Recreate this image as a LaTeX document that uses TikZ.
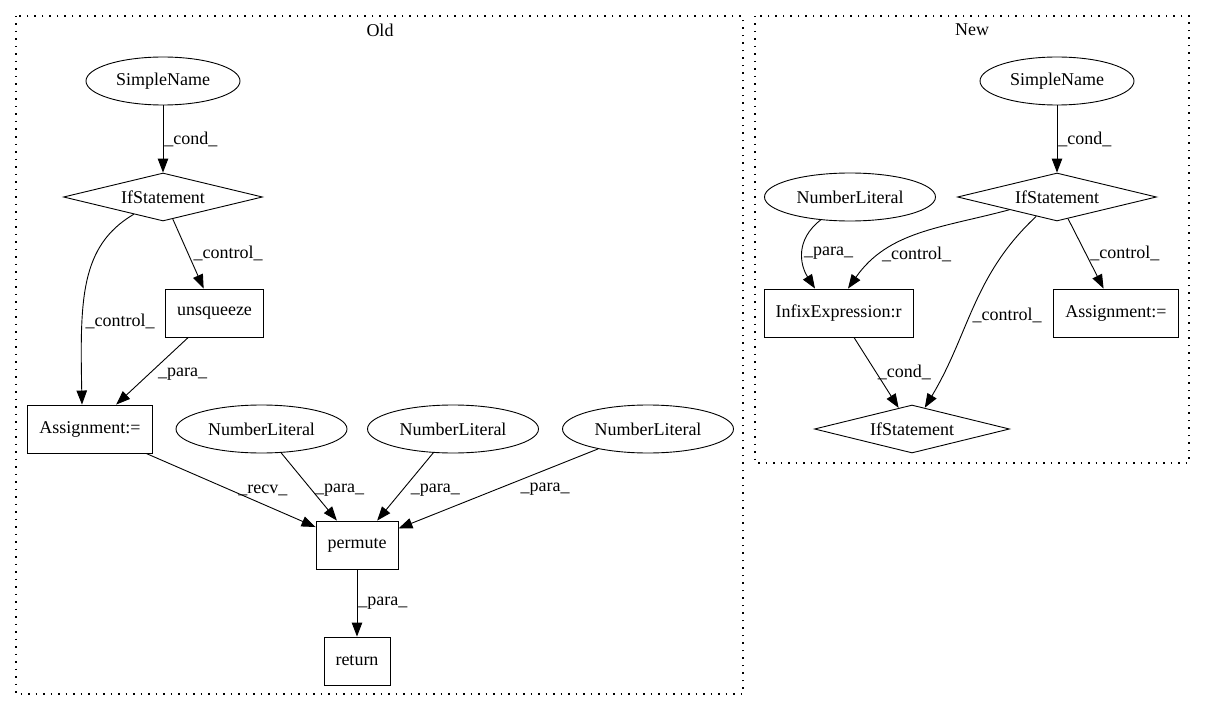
\documentclass[tikz,border=0pt]{standalone}
\usepackage{fontspec}
\setmainfont{Liberation Serif}
\usetikzlibrary{shapes.geometric}
\usetikzlibrary{arrows.meta}
\tikzset{every node/.style={font=\fontsize{18bp}{22bp}\selectfont},
         leaf/.style={draw,ellipse,minimum height=48bp,inner sep=0pt},
         stmt/.style={draw,rectangle,minimum height=48bp,inner xsep=11.5bp},
         cond/.style={draw,diamond,aspect=4,inner sep=0pt,minimum width=199bp,minimum height=48bp},
         astedge/.style={-{Triangle[length=14bp,width=10.5bp]}},
         lbl/.style={inner sep=1bp,anchor=west},
         cluster/.style={dash pattern=on 1.5bp off 6bp,line width=1.2bp},
         }

\begin{document}
\begin{tikzpicture}[x=1bp,y=-1bp,line width=0.9bp]
\useasboundingbox (0,0) rectangle (1205,712);
% the two clusters
\draw[cluster] (16,16) rectangle (743,694);
\node (oldtitle) at (380,30) {Old};
\draw[cluster] (755,16) rectangle (1189,463);
\node (newtitle) at (972,30) {New};

% old
\node[leaf,minimum width=154bp] (snold) at (163,81) {SimpleName};
\node[cond] (ifold) at (163,197) {IfStatement};
\node[stmt] (unsq) at (214.5,313) {unsqueeze};
\node[stmt] (asgold) at (90,429) {Assignment:=};
\node[leaf,minimum width=171bp] (nla) at (261.5,429) {NumberLiteral};
\node[leaf,minimum width=171bp] (nlb) at (453,429) {NumberLiteral};
\node[leaf,minimum width=171bp] (nlc) at (648,429) {NumberLiteral};
\node[stmt] (perm) at (357,545) {permute};
\node[stmt] (ret) at (357,661) {return};

\draw[astedge] (snold) -- node[lbl] {\_cond\_} (ifold);
\draw[astedge] (ifold) -- node[lbl,xshift=4bp] {\_control\_} (unsq);
\draw[astedge] (ifold) .. controls (80,246) and (80,300) .. node[lbl,pos=0.69,xshift=2bp] {\_control\_} ([xshift=-8bp]asgold.north);
\draw[astedge] (unsq) -- node[lbl,pos=0.55,xshift=8bp] {\_para\_} (asgold);
\draw[astedge] (asgold) -- node[lbl,xshift=6bp] {\_recv\_} (perm);
\draw[astedge] (nla) -- node[lbl,pos=0.55,xshift=2bp] {\_para\_} (perm);
\draw[astedge] (nlb) -- node[lbl,pos=0.55,xshift=7bp] {\_para\_} (perm);
\draw[astedge] (nlc) -- node[lbl,xshift=21bp] {\_para\_} (perm);
\draw[astedge] (perm) -- node[lbl] {\_para\_} (ret);

% new
\node[leaf,minimum width=154bp] (snnew) at (1057,81) {SimpleName};
\node[cond] (ifnew) at (1057,197) {IfStatement};
\node[leaf,minimum width=171bp] (nlnew) at (850,197) {NumberLiteral};
\node[stmt] (infix) at (838.5,313) {InfixExpression:r};
\node[stmt] (asgnew) at (1116,313) {Assignment:=};
\node[cond,minimum width=195bp] (ifnew2) at (912,429) {IfStatement};

\draw[astedge] (snnew) -- node[lbl] {\_cond\_} (ifnew);
\draw[astedge] (nlnew) .. controls (795,240) and (800,265) .. node[lbl] {\_para\_} ([xshift=-23.5bp]infix.north);
\draw[astedge] (ifnew) to[out=-165,in=55] node[lbl,pos=0.75] {\_control\_} ([xshift=9.5bp]infix.north);
\draw[astedge] (ifnew) to[out=-137,in=59] node[lbl,pos=0.55,xshift=2bp] {\_control\_} (ifnew2);
\draw[astedge] (ifnew) -- node[lbl,xshift=3bp] {\_control\_} (asgnew);
\draw[astedge] (infix) -- node[lbl] {\_cond\_} (ifnew2);
\end{tikzpicture}
\end{document}
